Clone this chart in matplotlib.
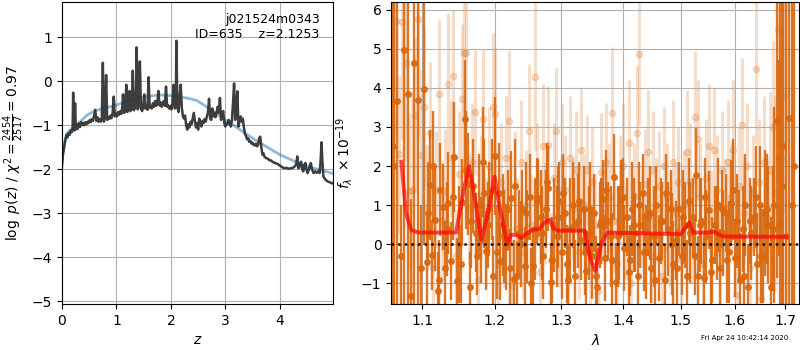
#Redshift fit plot: p(z) on the left, 1D spectrum with model on the right
import matplotlib
matplotlib.use('Agg')
import matplotlib.pyplot as plt
from matplotlib.ticker import NullLocator

#log p(z) curve (dark)
z_grid = [0.00, 0.02, 0.04, 0.06, 0.08, 0.10, 0.12, 0.14, 0.16, 0.18, 0.195, 0.205, 0.215,
          0.225, 0.24, 0.255, 0.27, 0.29, 0.31, 0.33, 0.35, 0.37, 0.39, 0.41, 0.43, 0.45,
          0.47, 0.49, 0.51, 0.53, 0.55, 0.57, 0.59, 0.61, 0.63, 0.65, 0.67, 0.69, 0.71, 0.73,
          0.75, 0.77, 0.79, 0.81, 0.83, 0.85, 0.87, 0.89, 0.91, 0.93, 0.95, 0.97, 0.99, 1.01,
          1.03, 1.05, 1.07, 1.09, 1.11, 1.12, 1.14, 1.16, 1.18, 1.20, 1.22, 1.24, 1.26, 1.28,
          1.30, 1.32, 1.34, 1.36, 1.37, 1.39, 1.41, 1.43, 1.45, 1.47, 1.49, 1.51, 1.53, 1.55,
          1.57, 1.59, 1.61, 1.63, 1.65, 1.67, 1.69, 1.71, 1.73, 1.75, 1.77, 1.79, 1.81, 1.83,
          1.85, 1.87, 1.89, 1.91, 1.93, 1.95, 1.97, 1.99, 2.01, 2.03, 2.05, 2.07, 2.09, 2.10,
          2.12, 2.14, 2.16, 2.18, 2.20, 2.22, 2.24, 2.26, 2.28, 2.30, 2.32, 2.34, 2.36, 2.38,
          2.40, 2.42, 2.44, 2.46, 2.48, 2.50, 2.52, 2.54, 2.56, 2.58, 2.60, 2.62, 2.64, 2.66,
          2.68, 2.70, 2.72, 2.74, 2.76, 2.78, 2.80, 2.82, 2.84, 2.86, 2.88, 2.90, 2.92, 2.94,
          2.96, 2.98, 3.00, 3.02, 3.04, 3.06, 3.08, 3.10, 3.12, 3.14, 3.16, 3.18, 3.20, 3.22,
          3.24, 3.26, 3.28, 3.30, 3.32, 3.34, 3.36, 3.38, 3.40, 3.42, 3.44, 3.46, 3.48, 3.50,
          3.52, 3.54, 3.56, 3.58, 3.60, 3.62, 3.64, 3.66, 3.68, 3.70, 3.72, 3.75, 3.78, 3.81,
          3.84, 3.87, 3.90, 3.93, 3.96, 4.00, 4.04, 4.08, 4.12, 4.16, 4.20, 4.24, 4.27, 4.30,
          4.32, 4.34, 4.37, 4.39, 4.41, 4.43, 4.45, 4.47, 4.49, 4.51, 4.53, 4.55, 4.57, 4.59,
          4.62, 4.65, 4.68, 4.71, 4.73, 4.75, 4.765, 4.78, 4.80, 4.84, 4.88, 4.92, 4.98]
log_pz = [-1.92, -1.65, -1.5, -1.35, -1.22, -1.28, -1.18, -1.22, -1.12, -1.16, -1.08, -0.26, -1.05,
          -1.12, -0.5, -1.1, -0.98, -1.08, -0.96, -1.04, -0.93, -1.0, -0.95, -1.0, -0.93, -0.98,
          -0.92, -0.95, -0.88, -0.93, -0.86, -0.9, -0.78, -0.65, -0.9, -0.82, -0.92, -0.86, -0.92, -0.88,
          0.42, -0.92, -0.78, 0.14, -0.88, -0.82, -0.86, -0.78, -0.84, -0.72, -0.35, -0.8, -0.74, -0.8,
          -0.7, -0.76, -0.68, -0.74, -0.55, -0.3, -0.72, -0.68, -0.08, -0.7, -0.64, -0.22, -0.68, -0.62,
          0.24, -0.66, -0.6, -0.2, 0.77, -0.64, -0.55, 0.45, -0.62, -0.68, -0.6, -0.3, -0.62, -0.55,
          -0.65, 0.09, -0.6, -0.56, -0.62, -0.5, -0.58, -0.45, -0.56, -0.5, -0.22, -0.55, -0.48, -0.58,
          -0.5, -0.45, -0.56, -0.12, -0.58, -0.55, -0.62, -0.56, -0.64, -0.5, -0.08, -0.62, -0.58, 0.92,
          -0.6, -0.7, -0.35, -0.08, -0.6, -0.8, -0.85, -0.78, -1.0, -1.1, -0.98, -1.05, -0.92, -0.98,
          -0.85, -0.72, -0.9, -1.05, -0.95, -1.1, -0.85, -0.98, -1.03, -0.9, -0.95, -0.86, -0.92, -0.8,
          -0.72, -0.4, -0.85, -0.88, -0.62, -0.8, -0.72, -0.82, -0.7, -0.58, -0.72, -0.38, -0.88, -0.75,
          -0.68, -0.95, -1.03, -0.95, -0.98, -0.88, -0.92, -1.03, -0.9, -0.5, -0.05, -0.88, -0.6, -0.23,
          -1.03, -0.9, -0.8, -0.92, -0.85, -1.05, -1.2, -1.25, -1.32, -1.3, -1.38, -1.36, -1.42, -1.4,
          -1.45, -1.46, -1.42, -1.48, -1.45, -1.3, -1.26, -1.5, -1.67, -1.64, -1.72, -1.75, -1.76, -1.8,
          -1.8, -1.84, -1.85, -1.87, -1.88, -1.92, -1.95, -1.98, -1.97, -1.99, -1.98, -1.97, -1.94, -1.9,
          -1.71, -1.98, -1.9, -1.83, -2.0, -2.05, -1.9, -1.86, -2.02, -2.09, -2.02, -1.92, -1.86, -2.0,
          -2.09, -2.05, -2.08, -2.05, -2.09, -1.8, -1.39, -1.8, -2.17, -2.24, -2.28, -2.3, -2.33]

#smooth curve (blue)
z_prior = [0.0, 0.03, 0.1, 0.2, 0.31, 0.46, 0.61, 0.8, 1.0, 1.23, 1.53, 1.78, 2.02, 2.33, 2.48,
           2.74, 3.0, 3.23, 3.54, 4.0, 4.45, 4.98]
log_prior = [-1.8, -1.45, -1.17, -1.05, -0.95, -0.77, -0.67, -0.61, -0.54, -0.44, -0.35, -0.31,
             -0.33, -0.39, -0.44, -0.65, -0.88, -1.07, -1.33, -1.67, -1.92, -2.1]

#binned spectrum (dark points)
wave_bin = [1.062, 1.064, 1.068, 1.072, 1.077, 1.081, 1.085, 1.090, 1.094, 1.098, 1.102,
            1.106, 1.110, 1.113, 1.117, 1.121, 1.124, 1.128, 1.131, 1.135, 1.139, 1.143, 1.147,
            1.150, 1.154, 1.158, 1.162, 1.165, 1.169, 1.173, 1.177, 1.181, 1.185, 1.188, 1.192,
            1.196, 1.200, 1.204, 1.208, 1.212, 1.216, 1.220, 1.224, 1.228, 1.232, 1.236, 1.240,
            1.244, 1.248, 1.252, 1.256, 1.260, 1.264, 1.268, 1.272, 1.276, 1.280, 1.284, 1.288,
            1.293, 1.297, 1.301, 1.305, 1.309, 1.314, 1.318, 1.322, 1.326, 1.331, 1.335, 1.339,
            1.344, 1.348, 1.352, 1.357, 1.361, 1.366, 1.370, 1.375, 1.379, 1.384, 1.388, 1.393,
            1.397, 1.402, 1.406, 1.411, 1.415, 1.420, 1.425, 1.429, 1.434, 1.439, 1.443, 1.448,
            1.453, 1.457, 1.462, 1.467, 1.472, 1.477, 1.482, 1.487, 1.492, 1.497, 1.502, 1.507,
            1.512, 1.517, 1.522, 1.527, 1.532, 1.537, 1.542, 1.547, 1.552, 1.558, 1.563, 1.568,
            1.573, 1.578, 1.584, 1.589, 1.594, 1.600, 1.605, 1.610, 1.616, 1.621, 1.627, 1.632,
            1.638, 1.643, 1.649, 1.655, 1.660, 1.666, 1.672, 1.678, 1.684, 1.690, 1.696, 1.702,
            1.708, 1.714, 1.719]
flux_bin = [2.5, 2.0, 3.66, -0.3, 4.97, 3.83, -1.33, 4.64, 3.7, -0.6, 3.98,
            -0.44, 1.51, -0.27, 0.62, -1.2, 1.4, 0.95, -0.6, 1.06, -0.43, 2.23, -0.95,
            0.0, 1.08, 3.2, 1.55, -1.1, 1.5, 0.3, 1.0, 0.12, 1.3, -0.16, 0.9,
            1.4, 2.26, -0.2, -0.42, 0.5, -0.07, 0.9, 1.19, -0.88, -0.81, 0.3, 0.9,
            -0.55, 0.2, 1.21, -0.56, 0.4, 1.18, 0.7, -0.3, 0.9, 1.43, -0.96, 0.5,
            0.2, 1.1, -0.2, 0.8, -0.5, 0.4, 1.0, -0.8, 0.6, 0.1, 0.9, -0.67,
            0.3, -0.3, 0.8, -1.1, 0.5, 1.15, -0.35, 0.6, 0.2, 1.72, -0.97, 0.3,
            1.15, -0.1, 0.7, -0.41, 0.9, 0.3, -0.8, 0.5, 1.3, -0.2, 0.7, -0.6,
            0.2, 1.0, -0.35, 0.6, -0.9, 0.4, 0.9, -0.5, 0.1, 0.9, -0.3, 0.5,
            -0.8, 0.3, 0.7, 1.78, -0.8, 0.6, -0.85, 0.2, 0.88, -0.4, 0.5, 1.0,
            -0.6, 0.3, 0.8, -0.2, 1.06, -0.35, 0.6, -0.9, 0.4, 1.0, -1.1, 0.3,
            0.7, -0.5, 1.0, -0.3, 0.8, 0.5, -1.1, 1.0, 3.15, 0.5, 2.5, 0.2,
            3.22, 1.0, 2.0]
err_bin = [8, 8, 8, 1.3, 8, 8, 2.5, 8, 8, 1.6, 4.0,
           1.2, 1.4, 0.9, 1.3, 1.0, 1.2, 1.1, 1.2, 1.3, 1.0, 1.4, 1.1,
           1.5, 1.1, 1.5, 1.3, 0.9, 1.2, 1.0, 1.3, 1.1, 1.4, 1.0, 1.2,
           1.3, 1.5, 1.2, 1.0, 1.3, 1.1, 1.0, 1.2, 1.0, 0.9, 1.1, 1.0,
           1.0, 1.2, 1.1, 1.0, 1.3, 1.0, 1.2, 1.1, 1.0, 1.1, 1.0, 1.2,
           1.3, 1.0, 1.2, 0.9, 1.0, 1.3, 1.1, 0.9, 1.2, 1.0, 1.1, 1.0,
           1.2, 1.1, 1.0, 1.0, 1.1, 1.0, 1.1, 1.0, 1.3, 1.1, 1.0, 1.2,
           1.0, 1.1, 1.0, 0.9, 1.2, 1.0, 0.9, 1.1, 1.0, 1.2, 1.0, 0.9,
           1.3, 1.0, 1.1, 1.0, 0.9, 1.2, 1.0, 1.1, 1.0, 1.2, 1.0, 1.1,
           0.9, 1.3, 1.0, 1.2, 1.0, 1.1, 1.0, 1.2, 1.0, 1.1, 1.0, 1.2,
           1.0, 1.1, 1.0, 1.3, 1.1, 1.0, 1.2, 1.0, 1.1, 1.3, 1.1, 1.2,
           1.0, 1.3, 1.5, 1.2, 1.6, 1.5, 1.8, 2.5, 4.0, 7, 8, 8,
           8, 8, 8]

#second set of binned points (dark, interleaved)
wave_bin_b = [1.108, 1.115, 1.123, 1.133, 1.141, 1.152, 1.160, 1.167, 1.175, 1.183,
              1.190, 1.198, 1.206, 1.214, 1.222, 1.230, 1.238, 1.246, 1.254, 1.262,
              1.270, 1.278, 1.286, 1.295, 1.303, 1.311, 1.320, 1.328, 1.337, 1.346,
              1.355, 1.364, 1.372, 1.381, 1.391, 1.400, 1.409, 1.418, 1.427, 1.436,
              1.446, 1.455, 1.465, 1.474, 1.484, 1.494, 1.505, 1.515, 1.525, 1.535,
              1.545, 1.555, 1.566, 1.576, 1.586, 1.597, 1.608, 1.619, 1.630, 1.641,
              1.652, 1.663, 1.675, 1.687, 1.693]
flux_bin_b = [0.8, 2.0, -0.9, 0.4, 1.2, -0.5, 1.9, 0.6, -0.3, 2.1,
              0.5, -0.8, 1.3, 0.2, -0.6, 1.5, 0.0, 0.8, -1.0, 1.1,
              0.3, 1.6, -0.4, 0.7, 1.3, -0.9, 0.5, 1.1, -0.2, 0.9,
              -0.8, 0.6, 1.4, -0.4, 0.2, 1.2, -0.7, 0.5, 1.0, -0.2,
              0.8, -0.9, 0.6, 1.3, 0.0, -0.6, 0.7, 1.1, -0.3, 0.5,
              1.2, -0.7, 0.3, 0.9, -0.4, 1.4, 0.2, -0.8, 0.6, 1.2,
              -0.3, 0.9, 0.4, 2.2, 1.5]
err_bin_b = [1.3, 1.4, 1.0, 1.2, 1.1, 1.0, 1.5, 1.2, 1.0, 1.4,
             1.1, 1.0, 1.3, 1.2, 1.0, 1.2, 1.1, 1.3, 0.9, 1.1,
             1.2, 1.0, 1.1, 1.3, 1.0, 0.9, 1.2, 1.0, 1.1, 1.2,
             1.0, 1.1, 1.0, 1.2, 1.3, 1.0, 0.9, 1.2, 1.1, 1.0,
             1.2, 1.0, 1.1, 1.0, 1.3, 1.0, 1.2, 1.1, 1.0, 1.2,
             1.0, 1.1, 1.2, 1.0, 1.1, 1.3, 1.2, 1.0, 1.1, 1.3,
             1.2, 1.4, 1.6, 2.5, 7]

#unbinned spectrum (light points)
wave_raw = [1.066, 1.070, 1.074, 1.079, 1.083, 1.087, 1.091, 1.095, 1.099, 1.103, 1.107, 1.111,
            1.115, 1.119, 1.123, 1.127, 1.131, 1.135, 1.139, 1.142, 1.146, 1.150, 1.154, 1.157,
            1.160, 1.164, 1.168, 1.172, 1.176, 1.180, 1.184, 1.188, 1.192, 1.197, 1.201, 1.205,
            1.209, 1.213, 1.217, 1.221, 1.225, 1.229, 1.233, 1.238, 1.242, 1.246, 1.250, 1.254,
            1.259, 1.263, 1.267, 1.271, 1.275, 1.280, 1.284, 1.288, 1.292, 1.297, 1.301, 1.305,
            1.310, 1.314, 1.318, 1.323, 1.327, 1.331, 1.336, 1.340, 1.345, 1.349, 1.354, 1.358,
            1.363, 1.367, 1.372, 1.376, 1.381, 1.385, 1.390, 1.395, 1.399, 1.404, 1.409, 1.413,
            1.418, 1.423, 1.427, 1.432, 1.437, 1.442, 1.447, 1.451, 1.456, 1.461, 1.466, 1.471,
            1.476, 1.481, 1.486, 1.491, 1.496, 1.501, 1.506, 1.511, 1.516, 1.521, 1.526, 1.531,
            1.536, 1.541, 1.546, 1.551, 1.556, 1.561, 1.566, 1.572, 1.577, 1.582, 1.587, 1.593,
            1.598, 1.603, 1.609, 1.614, 1.619, 1.625, 1.630, 1.636, 1.641, 1.647, 1.652, 1.658,
            1.663, 1.669, 1.675, 1.680, 1.686, 1.692, 1.698]
flux_raw = [5.7, 2.3, 5.67, 4.64, 1.35, 1.4, 3.3, 5.75, 2.27, 3.5, 0.95, 2.85,
            -0.6, 1.4, 3.83, 0.6, 1.35, 4.1, 2.2, 4.3, -0.3, 1.8, 3.72, 4.89,
            4.89, 0.9, 2.1, 3.37, -0.9, 1.2, 3.2, 0.3, 2.0, 3.5, 3.34, -0.5,
            1.6, 0.2, 2.2, 3.15, -1.05, 1.5, 0.4, 2.1, -0.2, 1.0, 2.9, 0.5,
            4.28, 1.6, -0.7, 2.5, 0.8, 2.55, -0.4, 1.7, 2.9, 0.2, 2.1, 1.4,
            -0.9, 2.2, 0.9, 1.9, -0.2, 2.4, 1.0, 1.9, -0.6, 1.6, 0.5, -1.2,
            1.85, 0.8, 2.1, 1.2, 3.35, 0.6, -0.5, 1.4, 2.0, 0.3, 2.6, -1.0,
            1.2, 2.85, 4.86, 0.7, 1.55, 2.35, -0.3, 1.9, 0.9, 1.5, -0.8, 2.0,
            1.2, 0.2, 2.1, 0.8, 1.6, -0.4, 1.0, 2.35, 1.6, 0.3, 3.25, 2.7,
            1.2, -0.5, 1.7, 2.5, 0.6, 2.4, 1.4, -0.2, 1.9, 0.9, 2.1, 1.2,
            2.4, -1.3, 1.5, 3.05, 0.8, 2.0, -0.6, 1.3, 4.47, 1.6, -1.4, 2.1,
            0.7, 1.9, 3.0, 1.3, 5.5, 2.2, 3.8]
err_raw = [3, 2, 3, 2.5, 2, 2.5, 2, 3, 2.2, 2.0, 1.6, 1.8,
           1.3, 1.5, 1.9, 1.5, 1.6, 1.8, 1.5, 1.7, 1.2, 1.6, 1.9, 1.8,
           1.9, 1.4, 1.5, 1.6, 1.2, 1.6, 1.8, 1.4, 1.5, 1.9, 1.7, 1.2,
           1.5, 1.3, 1.6, 1.8, 1.2, 1.4, 1.3, 1.6, 1.2, 1.4, 1.7, 1.3,
           1.9, 1.5, 1.2, 1.6, 1.3, 1.5, 1.2, 1.4, 1.6, 1.3, 1.5, 1.4,
           1.2, 1.6, 1.3, 1.5, 1.2, 1.6, 1.3, 1.4, 1.2, 1.4, 1.3, 1.2,
           1.5, 1.3, 1.5, 1.4, 1.7, 1.3, 1.2, 1.4, 1.6, 1.2, 1.6, 1.2,
           1.4, 1.7, 1.8, 1.3, 1.4, 1.6, 1.2, 1.5, 1.3, 1.4, 1.2, 1.5,
           1.4, 1.3, 1.6, 1.3, 1.4, 1.2, 1.4, 1.6, 1.5, 1.3, 1.7, 1.5,
           1.4, 1.2, 1.5, 1.6, 1.3, 1.6, 1.4, 1.3, 1.5, 1.3, 1.6, 1.4,
           1.8, 1.2, 1.5, 1.7, 1.3, 1.6, 1.3, 1.5, 1.9, 1.6, 1.3, 1.7,
           1.5, 2.0, 2.2, 2.5, 3, 3, 3]

#best-fit model
wave_model = [1.073, 1.079, 1.0856, 1.095, 1.1458, 1.157, 1.164, 1.171, 1.181, 1.190, 1.200,
              1.206, 1.212, 1.218, 1.224, 1.232, 1.239, 1.246, 1.256, 1.266, 1.273, 1.282,
              1.288, 1.295, 1.337, 1.346, 1.354, 1.364, 1.374, 1.5, 1.516, 1.523, 1.545,
              1.562, 1.577, 1.703]
flux_model = [2.11, 0.79, 0.37, 0.3, 0.3, 1.45, 2.0, 1.26, 0.12, 0.76, 1.73,
              1.06, 0.55, 0.0, 0.24, 0.24, 0.16, 0.27, 0.37, 0.39, 0.54, 0.63,
              0.39, 0.35, 0.35, -0.39, -0.68, 0.04, 0.3, 0.26, 0.56, 0.3, 0.3,
              0.32, 0.2, 0.19]

wave_ticks = [1.1, 1.2, 1.3, 1.4, 1.5, 1.6, 1.7]
orange = '#d9680f'

fig = plt.figure(figsize=(8, 3.5), dpi=100)
ax1 = fig.add_axes([0.0775, 0.131, 0.339, 0.863])
ax2 = fig.add_axes([0.489, 0.131, 0.51, 0.863])

ax1.plot(z_prior, log_prior, color='tab:blue', alpha=0.5, lw=2)
ax1.plot(z_grid, log_pz, color='0.2', alpha=0.95, lw=1.8)
ax1.set_xlim(0, 4.98)
ax1.set_ylim(-5.07, 1.8)
ax1.set_xticks([0, 1, 2, 3, 4])
ax1.set_xlabel('$z$')
ax1.set_ylabel(r'$\log\ p(z)$ / $\chi^2=\frac{2454}{2517}=0.97$')
ax1.text(0.95, 0.965, 'j021524m0343\nID=635    z=2.1253', transform=ax1.transAxes,
         ha='right', va='top', fontsize=9)
ax1.grid()

ax2.errorbar(wave_raw, flux_raw, yerr=err_raw, color=orange, alpha=0.22, marker='o',
             ms=4.5, linestyle='None', elinewidth=2.2, zorder=1)
ax2.errorbar(wave_bin, flux_bin, yerr=err_bin, color=orange, alpha=0.9, marker='o',
             ms=4, linestyle='None', elinewidth=1.7, zorder=2)
ax2.errorbar(wave_bin_b, flux_bin_b, yerr=err_bin_b, color=orange, alpha=0.9, marker='o',
             ms=4, linestyle='None', elinewidth=1.7, zorder=2)
ax2.plot(wave_model, flux_model, color='r', alpha=0.7, lw=2.8, zorder=3)
ax2.axhline(0, color='k', linestyle=':', lw=1.8, alpha=0.9, zorder=4)
ax2.set_xscale('log')
ax2.set_xlim(1.06, 1.729)
ax2.set_ylim(-1.53, 6.19)
ax2.set_xticks(wave_ticks)
ax2.set_xticklabels([str(w) for w in wave_ticks])
ax2.xaxis.set_minor_locator(NullLocator())
ax2.set_xlabel(r'$\lambda$')
ax2.set_ylabel(r'$f_\lambda\ \times 10^{-19}$')
ax2.grid()

fig.text(0.985, 0.025, 'Fri Apr 24 10:42:14 2020', ha='right', va='bottom', fontsize=5)

fig.savefig('out.png', dpi=100)
